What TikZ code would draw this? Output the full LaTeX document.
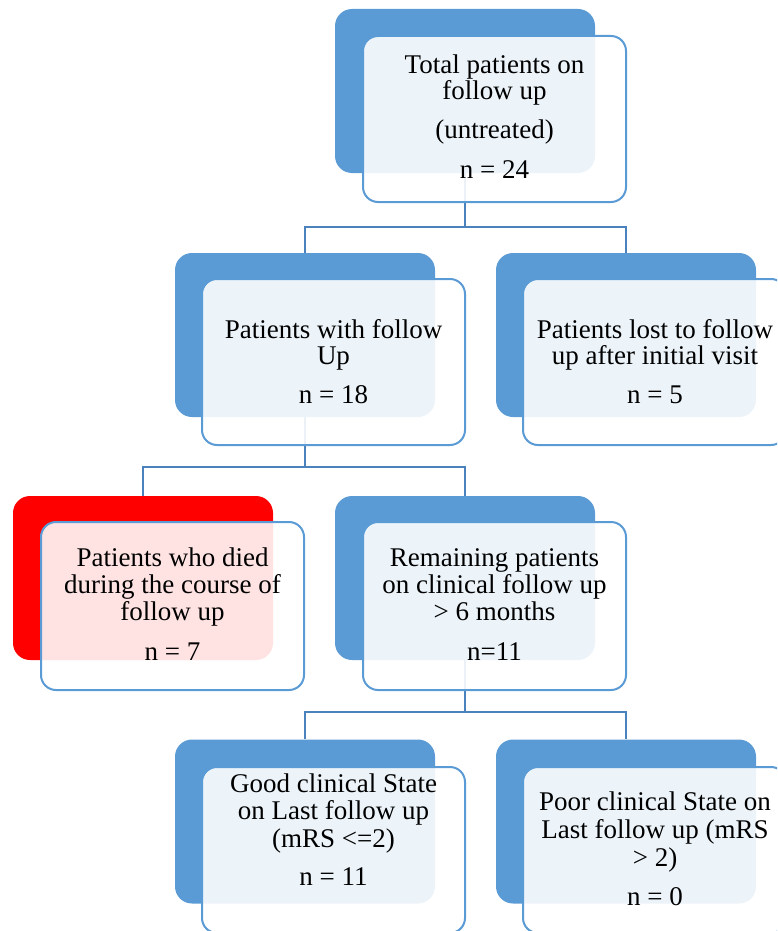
\documentclass[tikz,border=0pt]{standalone}
\usepackage{fontspec}
\setmainfont{Liberation Serif}
\definecolor{backblue}{HTML}{5B9BD5}
\definecolor{edgeblue}{HTML}{5B9BD5}
\definecolor{connblue}{HTML}{4A82BE}
\definecolor{deadred}{HTML}{FF0000}
\tikzset{
  backbox/.style={rectangle, rounded corners=17pt, fill=backblue, draw=none, minimum width=260pt, minimum height=164pt, inner sep=0pt},
  redbox/.style={backbox, fill=deadred},
  frontbox/.style={rectangle, rounded corners=15pt, draw=edgeblue, line width=2pt, fill=white, fill opacity=0.89, minimum width=263pt, minimum height=166pt, inner sep=0pt},
  conn/.style={draw=connblue, line width=2.2pt},
  txt/.style={anchor=base, inner sep=0pt, font=\fontsize{27pt}{28pt}\selectfont, text=black}
}
\begin{document}
\begin{tikzpicture}[x=1pt,y=-1pt]
\useasboundingbox (0,0) rectangle (777,931);
\clip (0,0) rectangle (777,931);
% back boxes
\node[backbox] (b1) at (465,91) {};
\node[backbox] (b2) at (305,335) {};
\node[backbox] (b3) at (626,335) {};
\node[redbox]  (b4) at (143,578) {};
\node[backbox] (b5) at (465,578) {};
\node[backbox] (b6) at (305,821.5) {};
\node[backbox] (b7) at (626,821.5) {};
% junctions
\coordinate (j1) at (465,227);
\coordinate (j2) at (305,467);
\coordinate (j3) at (465,712);
% connectors
\draw[conn] (b1.south) -- (j1) -| (b2.north);
\draw[conn] (j1) -| (b3.north);
\draw[conn] (b2.south) -- (j2) -| (b4.north);
\draw[conn] (j2) -| (b5.north);
\draw[conn] (b5.south) -- (j3) -| (b6.north);
\draw[conn] (j3) -| (b7.north);
% front boxes
\node[frontbox] (f1) at (494.5,119) {};
\node[frontbox] (f2) at (333.5,362) {};
\node[frontbox] (f3) at (654.5,362) {};
\node[frontbox, minimum height=168pt] (f4) at (172.5,606) {};
\node[frontbox, minimum height=168pt] (f5) at (494.5,606) {};
\node[frontbox] (f6) at (333.5,850) {};
\node[frontbox] (f7) at (654.5,850) {};
% texts
\node[txt] (t1a) at (494.5,74) {Total patients on};
\node[txt] (t1b) at (494.5,100) {follow up};
\node[txt] (t1c) at (494.5,139) {(untreated)};
\node[txt] (t1d) at (494.5,178) {n = 24};
\node[txt] (t2a) at (333.5,338) {Patients with follow};
\node[txt] (t2b) at (333.5,364) {Up};
\node[txt] (t2c) at (333.5,403) {n = 18};
\node[txt] (t3a) at (655,338) {Patients lost to follow};
\node[txt] (t3b) at (655,364) {up after initial visit};
\node[txt] (t3c) at (655,403) {n = 5};
\node[txt] (t4a) at (172.5,566) {Patients who died};
\node[txt] (t4b) at (172.5,593) {during the course of};
\node[txt] (t4c) at (172.5,620) {follow up};
\node[txt] (t4d) at (172.5,660) {n = 7};
\node[txt] (t5a) at (494.5,566) {Remaining patients};
\node[txt] (t5b) at (494.5,593) {on clinical follow up};
\node[txt] (t5c) at (494.5,620) {> 6 months};
\node[txt] (t5d) at (494.5,660) {n=11};
\node[txt] (t6a) at (333.5,792) {Good clinical State};
\node[txt] (t6b) at (333.5,819) {on Last follow up};
\node[txt] (t6c) at (333.5,847) {(mRS <=2)};
\node[txt] (t6d) at (333.5,885) {n = 11};
\node[txt] (t7a) at (655,810) {Poor clinical State on};
\node[txt] (t7b) at (655,838) {Last follow up (mRS};
\node[txt] (t7c) at (655,866) {> 2)};
\node[txt] (t7d) at (655,905) {n = 0};
\end{tikzpicture}
\end{document}
